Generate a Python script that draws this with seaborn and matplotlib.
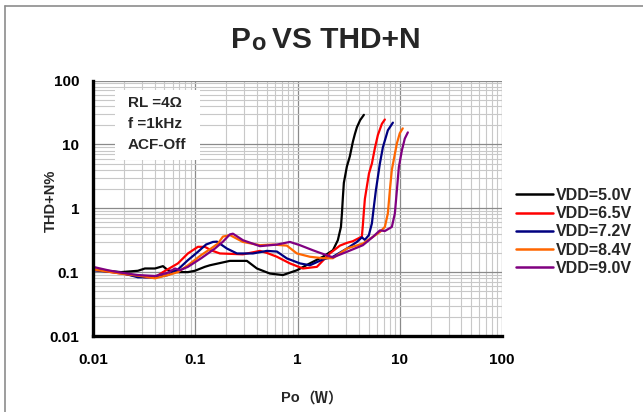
import numpy as np
import pandas as pd
import matplotlib
matplotlib.use("Agg")
import matplotlib.pyplot as plt
import seaborn as sns
from matplotlib.lines import Line2D
from matplotlib.patches import Rectangle
from matplotlib.ticker import FixedLocator, FixedFormatter, LogLocator

# ---------------------------------- данные кривых ----------------------------------

po_50 = [0.01, 0.0188, 0.0275, 0.0322, 0.0404, 0.0483, 0.0541, 0.0677, 0.0848, 0.0993, 0.124,
         0.139, 0.218, 0.32, 0.401, 0.537, 0.72, 0.987, 1.32, 1.77, 2.22, 2.48, 2.66, 2.72, 2.78,
         2.84, 3.04, 3.25, 3.48, 3.64, 3.81, 4.1, 4.46]
thd_50 = [0.11, 0.1, 0.105, 0.114, 0.114, 0.124, 0.107, 0.1, 0.1, 0.105, 0.121,
          0.128, 0.15, 0.15, 0.114, 0.095, 0.09, 0.107, 0.137, 0.174, 0.22, 0.316, 0.51, 0.83, 1.5,
          2.5, 4.5, 6.5, 11.0, 14.5, 18.5, 24.0, 29.0]

po_65 = [0.01, 0.0188, 0.0322, 0.0404, 0.0483, 0.0677, 0.0848, 0.1062, 0.1244, 0.1424, 0.1743,
         0.2926, 0.429, 0.502, 0.629, 0.843, 1.129, 1.548, 2.07, 2.6, 3.04, 3.48, 4.26, 4.36, 4.46,
         4.56, 4.77, 5.0, 5.34, 5.71, 6.11, 6.69, 7.15]
thd_65 = [0.11, 0.095, 0.083, 0.083, 0.1, 0.137, 0.196, 0.249, 0.249, 0.22, 0.196,
          0.19, 0.215, 0.2, 0.174, 0.137, 0.114, 0.121, 0.196, 0.26, 0.287, 0.305, 0.36, 0.55, 0.9,
          1.4, 2.2, 3.5, 5.0, 8.7, 14.0, 21.0, 24.5]

po_72 = [0.01, 0.0188, 0.0275, 0.0404, 0.0541, 0.0677, 0.0848, 0.1062, 0.1273, 0.1489, 0.163,
         0.204, 0.2556, 0.3664, 0.502, 0.629, 0.787, 1.056, 1.322, 1.77, 2.22, 3.04, 3.81, 4.26,
         4.56, 4.99, 5.34, 5.58, 5.84, 6.39, 6.84, 7.65, 8.57]
thd_72 = [0.107, 0.098, 0.083, 0.083, 0.09, 0.11, 0.154, 0.208, 0.27, 0.297, 0.3,
          0.234, 0.196, 0.196, 0.215, 0.21, 0.164, 0.137, 0.128, 0.158, 0.174, 0.234, 0.297, 0.35,
          0.32, 0.38, 0.58, 1.05, 1.9, 5.0, 9.0, 16.6, 21.9]

po_84 = [0.01, 0.0188, 0.0322, 0.0404, 0.0541, 0.0677, 0.0848, 0.1137, 0.1424, 0.1667, 0.1866,
         0.2184, 0.2926, 0.429, 0.575, 0.787, 0.987, 1.322, 1.77, 2.22, 3.04, 4.36, 5.46, 6.39,
         7.15, 7.65, 8.0, 8.37, 9.37, 10.0, 10.7]
thd_84 = [0.11, 0.095, 0.085, 0.08, 0.09, 0.1, 0.128, 0.184, 0.234, 0.28, 0.36,
          0.38, 0.297, 0.264, 0.27, 0.26, 0.196, 0.174, 0.165, 0.165, 0.234, 0.28, 0.356, 0.425,
          0.51, 0.83, 1.9, 4.0, 10.3, 14.9, 17.8]

po_90 = [0.01, 0.014, 0.0188, 0.0275, 0.0404, 0.0541, 0.0633, 0.0708, 0.0848, 0.1137, 0.1558,
         0.1866, 0.2184, 0.2336, 0.2926, 0.429, 0.629, 0.843, 1.056, 1.414, 1.66, 1.94, 2.22, 3.04,
         4.36, 5.46, 6.39, 7.15, 8.37, 8.96, 9.37, 9.8, 10.5, 11.2, 12.0]
thd_90 = [0.121, 0.107, 0.098, 0.09, 0.087, 0.098, 0.114, 0.107, 0.121, 0.164, 0.234,
          0.3, 0.39, 0.4, 0.316, 0.255, 0.27, 0.297, 0.264, 0.22, 0.2, 0.184, 0.17, 0.208,
          0.264, 0.356, 0.45, 0.44, 0.51, 0.83, 1.9, 4.4, 8.1, 12.3, 15.4]

labels = ["VDD=5.0V", "VDD=6.5V", "VDD=7.2V", "VDD=8.4V", "VDD=9.0V"]
colors = ["#000000", "#ff0000", "#000080", "#ff6600", "#800080"]

decades = [0.01, 0.1, 1, 10, 100]
decade_labels = ["0.01", "0.1", "1", "10", "100"]

# собираем длинный датафрейм для seaborn
df = pd.concat(
    [
        pd.DataFrame({"Po": x, "THD": y, "VDD": lab})
        for x, y, lab in zip(
            [po_50, po_65, po_72, po_84, po_90],
            [thd_50, thd_65, thd_72, thd_84, thd_90],
            labels,
        )
    ],
    ignore_index=True,
)

# ------------------------------------------------ график ------------------------------------------------

sns.set_style("white")
plt.rcParams["font.family"] = ["Liberation Sans", "DejaVu Sans"]
plt.rcParams["font.weight"] = "bold"

W, H = 643, 412
fig = plt.figure(figsize=(W / 100, H / 100), dpi=100)
ax = fig.add_axes([93 / W, 1 - 336 / H, (502 - 93) / W, (336 - 80.5) / H])

sns.lineplot(
    data=df, x="Po", y="THD", hue="VDD", palette=colors, hue_order=labels,
    estimator=None, sort=False, linewidth=1.6, ax=ax, zorder=5,
)

ax.set_xscale("log")
ax.set_yscale("log")
ax.set_xlim(0.01, 100)
ax.set_ylim(0.01, 100)

for axis in (ax.xaxis, ax.yaxis):
    axis.set_major_locator(FixedLocator(decades))
    axis.set_major_formatter(FixedFormatter(decade_labels))
    axis.set_minor_locator(LogLocator(base=10, subs=np.arange(2, 10)))

ax.grid(which="major", color="#8a8a8a", linewidth=0.9)
ax.grid(which="minor", color="#c8c8c8", linewidth=0.8)
ax.set_axisbelow(True)

for s in ["top", "right"]:
    ax.spines[s].set_visible(False)
for s in ["left", "bottom"]:
    ax.spines[s].set_color("black")
    ax.spines[s].set_linewidth(2.4)
    ax.spines[s].set_zorder(6)

ax.tick_params(which="major", direction="out", length=4, width=2, color="black",
               labelsize=11, labelcolor="black")
ax.tick_params(axis="x", which="major", pad=8)
ax.tick_params(axis="y", which="major", pad=6)
ax.tick_params(which="minor", length=0)
for t in ax.get_xticklabels() + ax.get_yticklabels():
    t.set_fontweight("bold")

ax.set_xlabel("")
ax.set_ylabel("")

# заголовок: "P" + уменьшенная "o" + остальное
base_y = 1 - 48.5 / H
fig.text(251 / W, base_y, "P", ha="right", va="baseline", fontsize=21.5, fontweight="bold")
fig.text(251 / W, base_y - 1 / H, "o", ha="left", va="baseline", fontsize=17, fontweight="bold")
fig.text(272 / W, base_y, "VS THD+N", ha="left", va="baseline", fontsize=21.5, fontweight="bold")

fig.text(51 / W, 1 - 201 / H, "THD+N%", rotation=90, ha="center", va="center",
         fontsize=10.5, fontweight="bold")
# подпись оси X: латиница и полноширинные скобки разными шрифтами
fig.text(300 / W, 1 - 398 / H, "Po", ha="right", va="center",
         fontsize=10.5, fontweight="bold", family="Liberation Sans")
fig.text(300 / W, 1 - 398 / H, "（W）", ha="left", va="center",
         fontsize=10.5, fontweight="bold", family="Noto Sans CJK SC")

# рамка с условиями
ax.add_patch(Rectangle((115 / W, 1 - 160 / H), 85 / W, 70 / H, transform=fig.transFigure,
                       facecolor="white", edgecolor="none", zorder=4, clip_on=False))
for i, line in enumerate(["RL =4Ω", "f =1kHz", "ACF-Off"]):
    fig.text(128 / W, 1 - (103 + i * 21) / H, line, ha="left", va="center",
             fontsize=11, fontweight="bold", zorder=7)

# легенда справа
handles = [Line2D([], [], color=c, linewidth=1.8) for c in colors]
ax.legend(handles, labels, loc="upper left", bbox_to_anchor=(516 / W, 1 - 188 / H),
          bbox_transform=fig.transFigure, frameon=False,
          handlelength=2.3, handletextpad=0.2, labelspacing=0.2, borderpad=0, borderaxespad=0,
          prop={"weight": "bold", "size": 11.5})

# серая рамка рисунка (видны левая и верхняя стороны)
fig.add_artist(Line2D([5 / W, 5 / W], [0, 1 - 6 / H], transform=fig.transFigure,
                      color="#8c8c8c", linewidth=1.2))
fig.add_artist(Line2D([5 / W, 1], [1 - 6 / H, 1 - 6 / H], transform=fig.transFigure,
                      color="#8c8c8c", linewidth=1.2))

fig.savefig("out.png", dpi=100)
